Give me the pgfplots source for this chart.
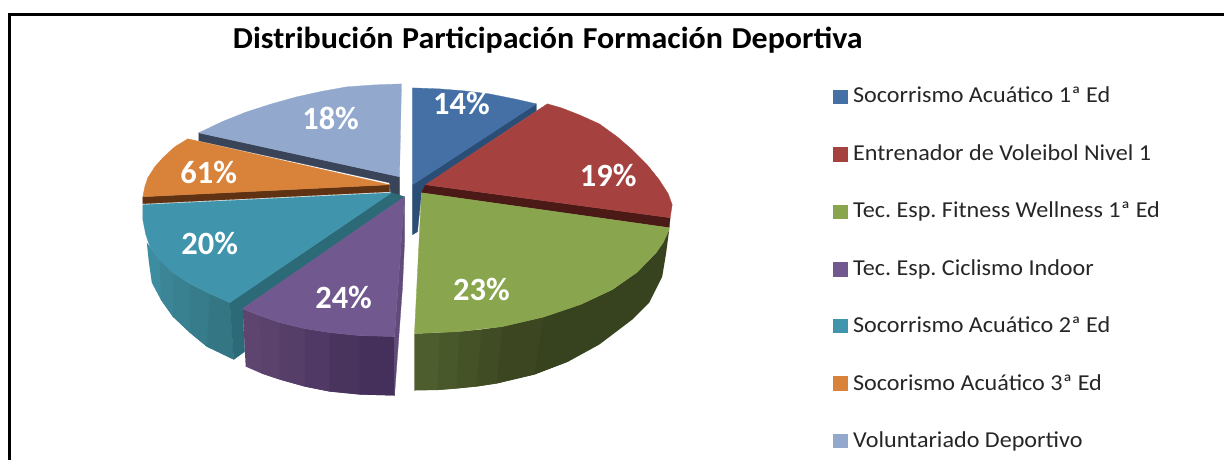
\documentclass[border=0pt]{standalone}
\usepackage{fontspec}
\setmainfont{Carlito}
\newfontfamily\legfont[FakeStretch=1.06]{Carlito}
\newfontfamily\titfont[FakeStretch=1.05,BoldFont={Carlito Bold}]{Carlito}
\usepackage{pgfplots}
\pgfplotsset{compat=1.18}
\frenchspacing
\definecolor{cBlue}{HTML}{4470A5}
\definecolor{cBlueD}{HTML}{2B4E76}
\definecolor{cRed}{HTML}{A5423F}
\definecolor{cRedD}{HTML}{4B1A17}
\definecolor{cGreen}{HTML}{89A54E}
\definecolor{cGreenL}{HTML}{4E5D2D}
\definecolor{cGreenD}{HTML}{37421E}
\definecolor{cPurple}{HTML}{71588F}
\definecolor{cPurpleL}{HTML}{5E4570}
\definecolor{cPurpleD}{HTML}{44305A}
\definecolor{cTeal}{HTML}{4095AD}
\definecolor{cTealL}{HTML}{3E8C9F}
\definecolor{cTealD}{HTML}{357685}
\definecolor{cTealC}{HTML}{2C6A78}
\definecolor{cOrange}{HTML}{D8823A}
\definecolor{cBrown}{HTML}{5F3213}
\definecolor{cLight}{HTML}{92A8CD}
\definecolor{cLightD}{HTML}{3A4459}
\newcommand{\poly}[2]{\addplot[fill=#1,draw=#1,line width=0.3pt] coordinates {#2} --cycle;}
\newcommand{\strip}[2]{\addplot[fill=#1,draw=none] coordinates {#2} --cycle;}
\newcommand{\legendtxt}[3]{\node[anchor=base west,inner sep=0pt,text=black!85,font=\legfont\fontsize{22.8}{25}\selectfont] at (axis cs:#1,#2) {#3};}
\newcommand{\pct}[3]{\node[text=white,font=\fontsize{32.5}{35}\selectfont\bfseries,inner sep=0pt] at (axis cs:#1,#2) {#3};}
\begin{document}
\begin{tikzpicture}
\begin{axis}[scale only axis,width=1225pt,height=461pt,xmin=0,xmax=1225,ymin=0,ymax=461,
  y dir=reverse,axis lines=none,clip=false]
\path (axis cs:0,0) rectangle (axis cs:1225,461);
% frame
\addplot[black,line width=3pt] coordinates {(9.5,461) (9.5,14.5) (1225,14.5)};
% light blue
\poly{cLightD}{(199,133)(400,177)(400,202)(392,202)(390,183)(199,141)}
\poly{cLight}{(199,133)(222,122)(247,112)(272,104)(297,97)(322,91.5)(347,87)(375,85)(402,84)(400,177)}
% blue
\poly{cBlueD}{(413,185)(537,104)(537,111)(426,185)(422,193)(418,232)(413,235)}
\poly{cBlue}{(413,88)(440,89)(465,91)(490,94)(515,99)(537,104)(413,185)}
% red
\poly{cRedD}{(426,185)(671,218)(670,228)(422,193)}
\poly{cRed}{(426,185)(548,104)(562,108)(580,115)(600,124)(618,137)(633,150)(648,165)(660,180)(669,194)(673,205)(671,218)}
% orange
\poly{cBrown}{(143,197)(390,185)(390,192)(143,204)}
\poly{cOrange}{(390,185)(188,139)(175,147)(163,158)(155,167)(148,178)(145,187)(143,197)}
% teal side
\strip{cTealL}{(147,243)(150,247)(160,260)(173,273)(173,317)(161,300)(152,283)(149,262)}
\strip{cTealL!70!cTealD}{(160,260)(173,273)(190,284)(190,333)(173,317)(161,300)}
\strip{cTealL!45!cTealD}{(173,273)(190,284)(210,294)(207,347)(190,333)(173,317)}
\strip{cTealL!25!cTealD}{(190,284)(210,294)(230,303)(234,360)(207,347)(190,333)}
\strip{cTealD}{(210,294)(230,303)(234,360)(207,347)}
\poly{cTealC}{(392,193)(230,303)(234,360)(245,352)(243,309)(405,197)}
\poly{cTeal}{(392,193)(143,205)(143,220)(146,235)(150,247)(160,260)(173,273)(190,284)(210,294)(230,303)}
% purple side
\strip{cPurpleL}{(243,309)(260,316)(280,323)(280,380)(262,374)(246,367)}
\strip{cPurpleL!85!cPurpleD}{(260,316)(280,323)(305,329)(305,387)(280,380)(262,374)}
\strip{cPurpleL!65!cPurpleD}{(280,323)(305,329)(330,333)(330,392)(305,387)(280,380)}
\strip{cPurpleL!45!cPurpleD}{(305,329)(330,333)(360,336)(360,395)(330,392)(305,387)}
\strip{cPurpleL!20!cPurpleD}{(330,333)(360,336)(395,337)(395,396)(360,395)(330,392)}
\strip{cPurpleD}{(360,336)(395,337)(395,396)(360,395)}
\poly{cPurple!85!black}{(405,197)(405,243)(403,287)(395,396)(395,337)}
\poly{cPurple}{(405,197)(243,309)(260,316)(280,323)(305,329)(330,333)(360,336)(395,337)}
% green side
\strip{cGreenL}{(415,334)(440,333)(460,332)(457,389)(438,390.5)(415,391)}
\strip{cGreenL!80!cGreenD}{(440,333)(460,332)(482,330)(477,387)(457,389)(438,390.5)}
\strip{cGreenL!60!cGreenD}{(460,332)(482,330)(503,327)(497,384)(477,387)(457,389)}
\strip{cGreenL!40!cGreenD}{(482,330)(503,327)(544,317.5)(535,375)(497,384)(477,387)}
\strip{cGreenL!20!cGreenD}{(503,327)(544,317.5)(581,305)(569,362)(535,375)(497,384)}
\strip{cGreenD}{(544,317.5)(581,305)(613,290)(638,272.5)(657,253)(670,230)(667,253)(663,277)(650,303)(633,320)(600,345)(569,362)(535,375)}
\poly{cGreen}{(422,193)(670,228)(670,230)(664,243)(657,253)(638,272.5)(613,290)(581,305)(544,317.5)(503,327)(460,332)(415,334)}
% legend swatches
\poly{cBlue}{(834,90)(848,90)(848,103)(834,103)}
\poly{cRed}{(834,147)(848,147)(848,161)(834,161)}
\poly{cGreen}{(834,205)(848,205)(848,218)(834,218)}
\poly{cPurple}{(834,262)(848,262)(848,276)(834,276)}
\poly{cTeal}{(834,320)(848,320)(848,333)(834,333)}
\poly{cOrange}{(834,377)(848,377)(848,391)(834,391)}
\poly{cLight}{(834,435)(848,435)(848,448)(834,448)}
% text
\node[anchor=base west,inner sep=0pt,font=\titfont\fontsize{30.5}{33}\selectfont\bfseries] at (axis cs:233,49) {Distribución\hspace{0.28em}Participación\hspace{0.28em}Formación\hspace{0.28em}Deportiva};
\legendtxt{854}{103}{Socorrismo Acuático 1ª Ed}
\legendtxt{854}{160.5}{Entrenador de Voleibol Nivel 1}
\legendtxt{854}{218}{Tec. Esp. Fitness Wellness 1ª Ed}
\legendtxt{854}{275.5}{Tec. Esp. Ciclismo Indoor}
\legendtxt{854}{333}{Socorrismo Acuático 2ª Ed}
\legendtxt{854}{390.5}{Socorismo Acuático 3ª Ed}
\legendtxt{854}{448}{Voluntariado Deportivo}
\pct{462}{104}{14\%}
\pct{609}{176}{19\%}
\pct{482}{290}{23\%}
\pct{344}{298}{24\%}
\pct{210}{244}{20\%}
\pct{209}{173}{61\%}
\pct{331}{119}{18\%}
\end{axis}
\end{tikzpicture}
\end{document}
